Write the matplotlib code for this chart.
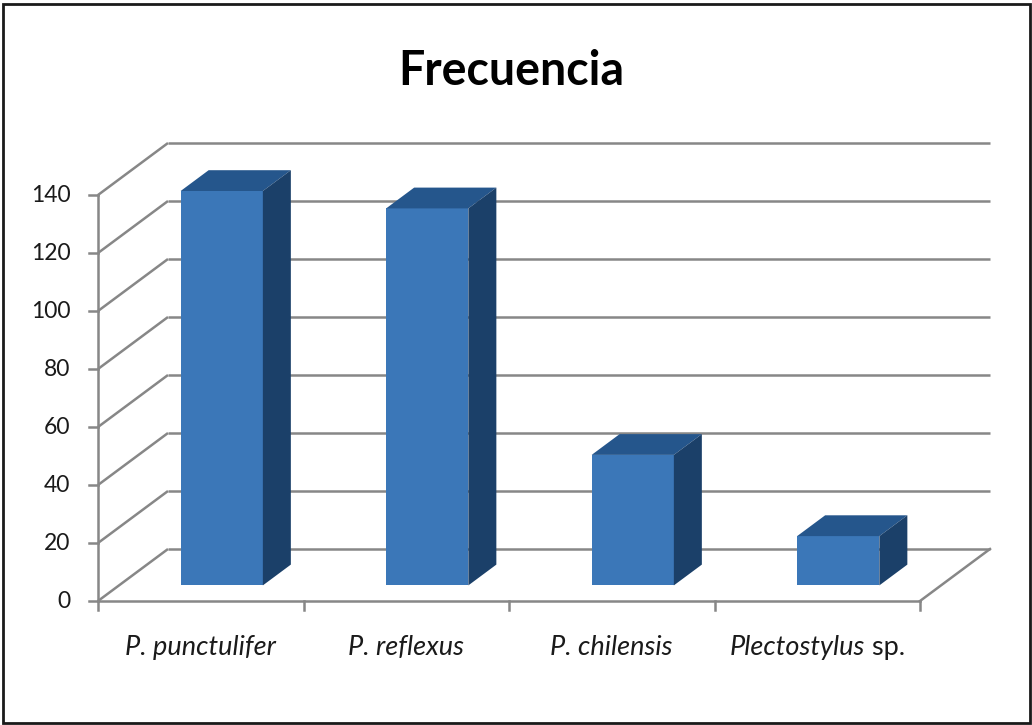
import matplotlib
matplotlib.use("Agg")
import matplotlib.pyplot as plt
from matplotlib.patches import Polygon, Rectangle

species = ["P. punctulifer", "P. reflexus", "P. chilensis", "Plectostylus"]
freq = [136, 130, 45, 17]
yticks = [0, 20, 40, 60, 80, 100, 120, 140]

plt.rcParams['font.family'] = ['Lato', 'DejaVu Sans']

W, H = 1032, 725
fig = plt.figure(figsize=(W / 100, H / 100), dpi=100)
# plot front plane in pixel terms: x 98..920, y 601..195
ax = fig.add_axes([98 / W, (H - 601) / H, (920 - 98) / W, (601 - 195) / H])
ax.set_xlim(0, 4)
ax.set_ylim(0, 140)
ax.axis('off')

# depth of the 3d box in data units
DX = 70 / 205.5
DY = 52 / 2.9
grid_c = '#878787'
lw = 1.8

# walls: left wall diagonals + back wall gridlines
for v in yticks:
    ax.plot([0, DX], [v, v + DY], color=grid_c, lw=lw, clip_on=False, zorder=1,
            solid_capstyle='butt')
    ax.plot([DX, 4 + DX], [v + DY, v + DY], color=grid_c, lw=lw, clip_on=False,
            zorder=1, solid_capstyle='butt')
    # y tick marks
    ax.plot([-0.044, 0], [v, v], color=grid_c, lw=lw, clip_on=False, zorder=3)
    ax.text(-0.135, v, str(v), ha='right', va='center', fontsize=16.5,
            color='#1a1a1a', clip_on=False)

# floor edges
ax.plot([0, 4], [0, 0], color=grid_c, lw=lw, clip_on=False, zorder=3)
ax.plot([4, 4 + DX], [0, DY], color=grid_c, lw=lw, clip_on=False, zorder=3)
ax.plot([0, 0], [0, 140], color=grid_c, lw=lw, clip_on=False, zorder=3)
for i in range(5):
    ax.plot([i, i], [0, -3], color=grid_c, lw=lw, clip_on=False, zorder=3)

# bars
front_c = '#3B77B8'
top_c = '#25568C'
side_c = '#1B4069'
d0, d1 = 0.3, 0.7
bw = 0.4
for i, v in enumerate(freq):
    x0 = i + 0.5 - bw / 2 + d0 * DX
    x1 = x0 + bw
    y0 = d0 * DY
    ax.bar(x0, v, width=bw, bottom=y0, align='edge', color=front_c,
           zorder=5, clip_on=False)
    ddx = (d1 - d0) * DX
    ddy = (d1 - d0) * DY
    top = [(x0, y0 + v), (x1, y0 + v), (x1 + ddx, y0 + v + ddy), (x0 + ddx, y0 + v + ddy)]
    side = [(x1, y0), (x1 + ddx, y0 + ddy), (x1 + ddx, y0 + v + ddy), (x1, y0 + v)]
    ax.add_patch(Polygon(top, closed=True, fc=top_c, ec='none', zorder=5, clip_on=False))
    ax.add_patch(Polygon(side, closed=True, fc=side_c, ec='none', zorder=5, clip_on=False))

# category labels
lab_y = -16.2
fs_cat = 19.5
for i, name in enumerate(species[:3]):
    ax.text(i + 0.5, lab_y, name, ha='center', va='center', fontsize=fs_cat,
            style='italic', color='#1a1a1a')
t1 = ax.text(3.5, lab_y, species[3], ha='left', va='center', fontsize=fs_cat,
             style='italic', color='#1a1a1a')
t2 = ax.text(3.5, lab_y, " sp.", ha='left', va='center', fontsize=fs_cat,
             color='#1a1a1a')
fig.canvas.draw()
r = fig.canvas.get_renderer()
w1 = t1.get_window_extent(r).width
w2 = t2.get_window_extent(r).width
cx = ax.transData.transform((3.5, lab_y))
t1.set_position(ax.transData.inverted().transform((cx[0] - (w1 + w2) / 2, cx[1])))
t2.set_position(ax.transData.inverted().transform((cx[0] - (w1 + w2) / 2 + w1, cx[1])))

fig.text(511 / W, (H - 85) / H, "Frecuencia", ha='center', va='baseline',
         fontsize=33.5, fontweight='bold', color='black')

fig.patches.append(Rectangle((3 / W, 2 / H), 1027 / W, 719 / H, transform=fig.transFigure,
                             fill=False, ec='#1a1a1a', lw=2))

fig.savefig("out.png", dpi=100)
